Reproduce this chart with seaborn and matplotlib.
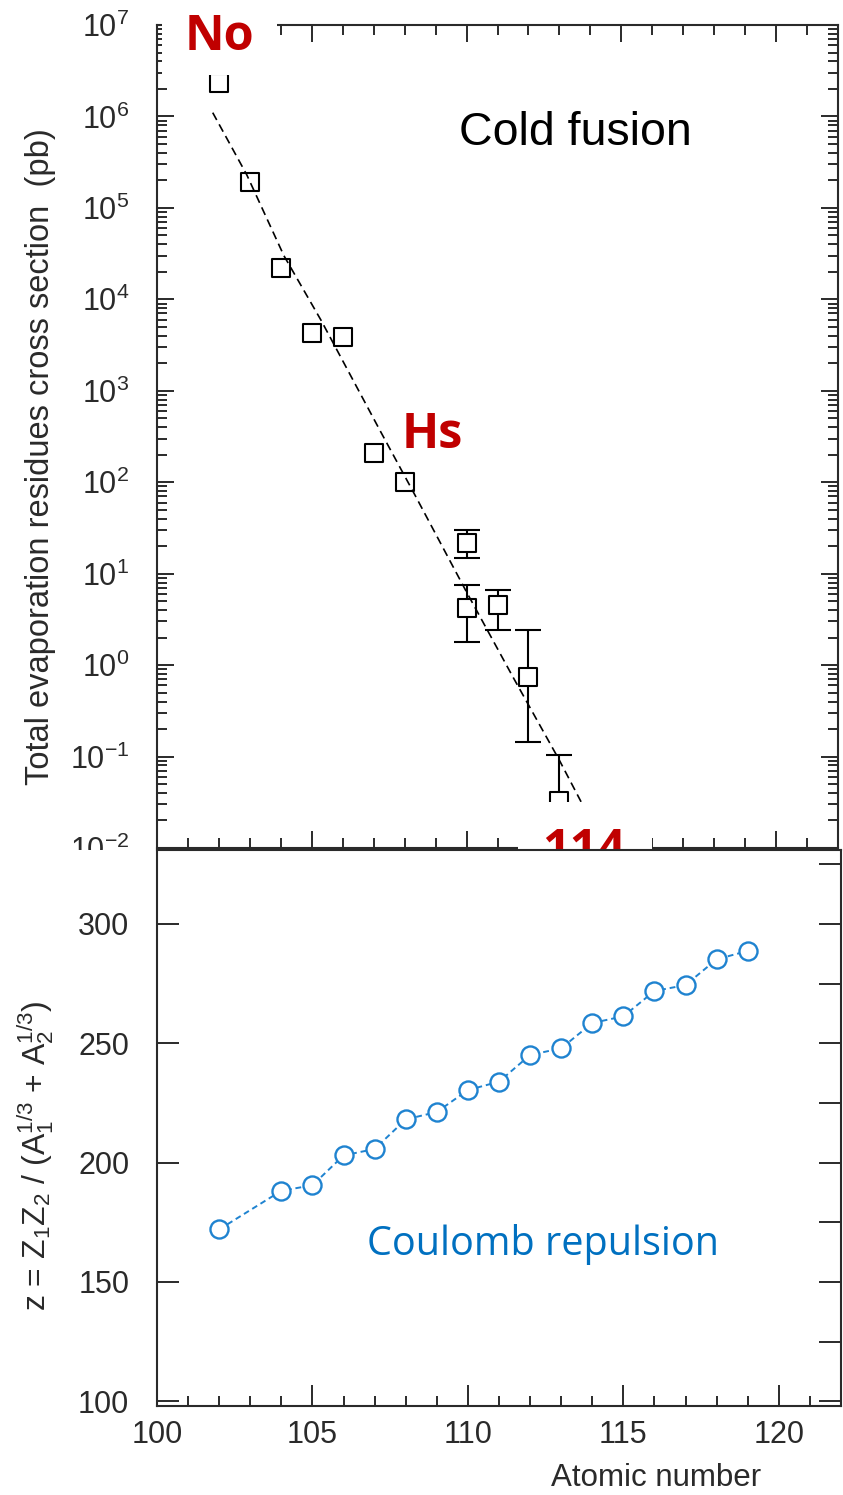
import numpy as np
import pandas as pd
import matplotlib
matplotlib.use("Agg")
import matplotlib.pyplot as plt
from matplotlib.ticker import (LogLocator, MultipleLocator, FuncFormatter,
                               NullFormatter)
from matplotlib.patches import Rectangle
import seaborn as sns

# ---- cold-fusion evaporation-residue cross sections (pb) ----
z_cs = [102, 103, 104, 105, 106, 107, 108, 110, 110, 111, 112, 113]
sigma_pb = [2.3e6, 1.9e5, 2.2e4, 4.3e3, 3.9e3, 2.1e2, 1.0e2,
            21.5, 4.2, 4.5, 0.74, 0.033]

# error-bar bounds for the heaviest systems
z_err = [110, 110, 111, 112, 113]
sigma_err = [21.5, 4.2, 4.5, 0.74, 0.033]
err_low = [14.8, 1.8, 2.4, 0.143, 0.010]
err_high = [30.0, 7.5, 6.7, 2.4, 0.103]

# systematics trend through the data
fit_z = [101.8, 102.9, 104.1, 105.3, 107.2, 108.3, 110.0, 111.5, 113.0, 113.7]
fit_sigma = [1.1e6, 2.3e5, 3.0e4, 5.9e3, 3.7e2, 76, 6.3, 0.74, 0.091, 0.032]

# ---- Coulomb parameter z = Z1 Z2 / (A1^1/3 + A2^1/3) ----
z_coul = [102, 104, 105, 106, 107, 108, 109, 110, 111, 112, 113, 114,
          115, 116, 117, 118, 119]
coulomb = [172.0, 188.2, 190.5, 203.0, 205.7, 218.1, 221.2, 230.4, 233.9,
           245.1, 247.9, 258.5, 261.3, 271.9, 274.4, 285.2, 288.7]

element_labels = ["No", "Hs", "114"]

sns.set_theme(style="ticks")
plt.rcParams["font.family"] = ["Liberation Sans", "DejaVu Sans"]
plt.rcParams["mathtext.fontset"] = "custom"
plt.rcParams["mathtext.rm"] = "Liberation Sans"
plt.rcParams["mathtext.it"] = "Liberation Sans:italic"

INK = "#2a2a2a"
RED = "#C00000"
BLUE = "#1f83d0"

W, H = 843, 1495
fig = plt.figure(figsize=(W / 100, H / 100), dpi=100)


def frac(x0, y0, x1, y1):
    return [x0 / W, 1 - y1 / H, (x1 - x0) / W, (y1 - y0) / H]


ax1 = fig.add_axes(frac(157, 25, 838, 848))
ax2 = fig.add_axes(frac(157, 850, 841, 1406))
ax2.set_zorder(2)

# the lower panel sits on a white sheet that hides what spills below the upper one
fig.add_artist(Rectangle((0, 0), 1, 1 - 850 / H, transform=fig.transFigure,
                         facecolor="white", edgecolor="none", zorder=1))

# ---------------- upper panel ----------------
ax1.set_yscale("log")
ax1.errorbar(z_err, sigma_err,
             yerr=[np.array(sigma_err) - np.array(err_low),
                   np.array(err_high) - np.array(sigma_err)],
             fmt="none", ecolor="black", elinewidth=1.5, capsize=9.7,
             capthick=1.5, zorder=2)
sns.scatterplot(x=z_cs, y=sigma_pb, marker="s", s=175, color="white",
                edgecolor="black", linewidth=1.5, zorder=3, ax=ax1,
                legend=False)
sns.lineplot(x=fit_z, y=fit_sigma, color="black", lw=1.2,
             linestyle=(0, (5, 3)), sort=False, zorder=4, ax=ax1)

ax1.set_xlim(100, 122)
ax1.set_ylim(1e-2, 1e7)
ax1.xaxis.set_major_locator(MultipleLocator(5))
ax1.xaxis.set_minor_locator(MultipleLocator(1))
ax1.yaxis.set_major_locator(LogLocator(base=10, numticks=20))
ax1.yaxis.set_minor_locator(LogLocator(base=10, subs=np.arange(2, 10),
                                       numticks=200))
ax1.yaxis.set_major_formatter(
    FuncFormatter(lambda v, p: r"$\mathregular{10^{%d}}$" % round(np.log10(v))))
ax1.yaxis.set_minor_formatter(NullFormatter())
ax1.tick_params(which="both", direction="in", top=True, right=True,
                bottom=True, left=True, labelbottom=False, width=1.4,
                color=INK)
ax1.tick_params(axis="y", which="major", length=12, labelsize=22, pad=20,
                labelcolor=INK)
ax1.tick_params(axis="y", which="minor", length=7)
ax1.tick_params(axis="x", which="major", length=12)
ax1.tick_params(axis="x", which="minor", length=7)
for sp in ax1.spines.values():
    sp.set_color(INK)
    sp.set_linewidth(1.5)
ax1.set_xlabel("")
ax1.set_ylabel("Total evaporation residues cross section  (pb)",
               fontsize=23.5, color=INK)
ax1.yaxis.set_label_coords(-0.148, 0.475)

ax1.text(0.614, 0.869, "Cold fusion", transform=ax1.transAxes,
         ha="center", va="center", fontsize=33.5, color="black",
         family=["Liberation Sans", "DejaVu Sans"])

# white label patches over the frame
for (x0, y0, x1, y1) in [(0.0073, 0.939, 0.176, 1.04),
                         (0.530, -0.01, 0.727, 0.056)]:
    ax1.add_patch(Rectangle((x0, y0), x1 - x0, y1 - y0,
                            transform=ax1.transAxes, facecolor="white",
                            edgecolor="none", clip_on=False, zorder=6))

label_pos = [(0.091, 0.970), (0.404, 0.486), (0.627, -0.0194)]
for lab, (lx, ly) in zip(element_labels, label_pos):
    ax1.text(lx, ly, lab, transform=ax1.transAxes, ha="center",
             va="baseline", fontsize=35, fontweight="bold", color=RED,
             family=["Open Sans", "DejaVu Sans"], clip_on=False, zorder=7)

# ---------------- lower panel ----------------
ax2.set_facecolor("white")
sns.lineplot(x=z_coul, y=coulomb, color=BLUE, lw=1.4,
             linestyle=(0, (3, 2)), marker="o", markersize=13,
             markerfacecolor="white", markeredgecolor=BLUE,
             markeredgewidth=1.7, ax=ax2)
ax2.set_xlim(100, 122)
ax2.set_ylim(98, 331)
ax2.xaxis.set_major_locator(MultipleLocator(5))
ax2.xaxis.set_minor_locator(MultipleLocator(1))
ax2.yaxis.set_major_locator(MultipleLocator(50))
ax2.yaxis.set_minor_locator(MultipleLocator(25))
ax2.tick_params(which="both", direction="in", width=1.4, color=INK,
                labelcolor=INK, labelsize=22)
ax2.tick_params(axis="y", which="major", left=True, right=True,
                length=15.6, pad=20)
ax2.tick_params(axis="y", which="minor", left=False, right=True,
                length=15.6)
ax2.tick_params(axis="x", which="major", bottom=True, top=False,
                length=15, pad=10)
ax2.tick_params(axis="x", which="minor", bottom=True, top=False, length=7)
for sp in ax2.spines.values():
    sp.set_color(INK)
    sp.set_linewidth(1.5)
ax2.set_xlabel("Atomic number", fontsize=22.5, color=INK)
ax2.xaxis.set_label_coords(0.73, -0.103)
ax2.set_ylabel(r"z = Z$\mathregular{_1}$Z$\mathregular{_2}$ / "
               r"(A$\mathregular{_1^{1/3}}$ + A$\mathregular{_2^{1/3}}$)",
               fontsize=23, color=INK)
ax2.yaxis.set_label_coords(-0.147, 0.451)

ax2.text(0.565, 0.2716, "Coulomb repulsion", transform=ax2.transAxes,
         ha="center", va="baseline", fontsize=28.5, color="#0070C0",
         family=["Open Sans", "DejaVu Sans"])

fig.savefig("out.png", dpi=100, facecolor="white")
